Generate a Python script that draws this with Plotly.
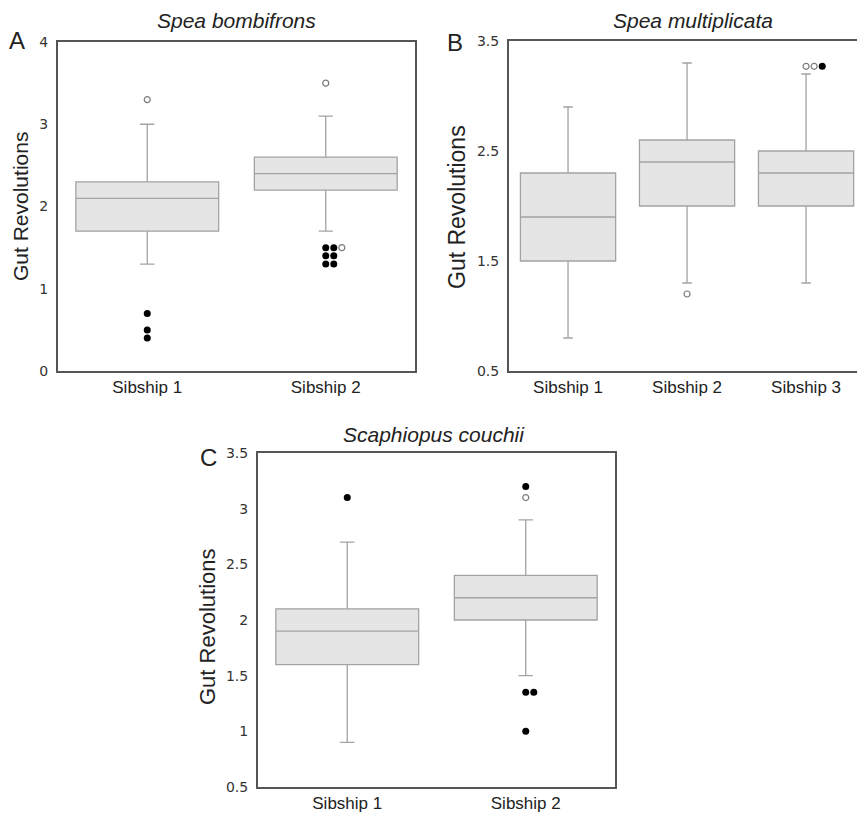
import plotly.graph_objects as go

W, H = 857, 813

# ---------------- data ----------------
cats_ab2 = ["Sibship 1", "Sibship 2"]
cats_b = ["Sibship 1", "Sibship 2", "Sibship 3"]

# Panel A: Spea bombifrons
a_q1 = [1.7, 2.2]
a_med = [2.1, 2.4]
a_q3 = [2.3, 2.6]
a_lo = [1.3, 1.7]
a_hi = [3.0, 3.1]
# outliers: (category index, column, value, filled)
a_out_cat = [0, 0, 0, 0, 1, 1, 1, 1, 1, 1, 1, 1]
a_out_col = [0, 0, 0, 0, 0, 0, 0, 1, 1, 1, 0, 2]
a_out_val = [3.3, 0.7, 0.5, 0.4, 1.5, 1.4, 1.3, 1.5, 1.4, 1.3, 3.5, 1.5]
a_out_fill = [False, True, True, True, True, True, True, True, True, True, False, False]

# Panel B: Spea multiplicata
b_q1 = [1.5, 2.0, 2.0]
b_med = [1.9, 2.4, 2.3]
b_q3 = [2.3, 2.6, 2.5]
b_lo = [0.8, 1.3, 1.3]
b_hi = [2.9, 3.3, 3.2]
b_out_cat = [1, 2, 2, 2]
b_out_col = [0, 0, 1, 2]
b_out_val = [1.2, 3.27, 3.27, 3.27]
b_out_fill = [False, False, False, True]

# Panel C: Scaphiopus couchii
c_q1 = [1.6, 2.0]
c_med = [1.9, 2.2]
c_q3 = [2.1, 2.4]
c_lo = [0.9, 1.5]
c_hi = [2.7, 2.9]
c_out_cat = [0, 1, 1, 1, 1, 1]
c_out_col = [0, 0, 0, 0, 1, 0]
c_out_val = [3.1, 3.2, 3.1, 1.35, 1.35, 1.0]
c_out_fill = [True, True, False, True, True, True]

a_ticks = [0, 1, 2, 3, 4]
b_ticks = [0.5, 1.5, 2.5, 3.5]
c_ticks = [0.5, 1, 1.5, 2, 2.5, 3, 3.5]

# ---------------- styling ----------------
BOX_FILL = "#e5e5e5"
BOX_LINE = "#a3a3a3"
FRAME = "#555555"
FONT = "Liberation Sans, Arial, sans-serif"
TICKFONT = "DejaVu Sans, Verdana, sans-serif"

fig = go.Figure()


def add_panel(cats, q1, med, q3, lo, hi, oc, ocol, oval, ofill, ax, spacing):
    xa = "x" if ax == 1 else f"x{ax}"
    ya = "y" if ax == 1 else f"y{ax}"
    for i in range(len(cats)):
        fig.add_trace(go.Box(
            x=[i], q1=[q1[i]], median=[med[i]], q3=[q3[i]],
            lowerfence=[lo[i]], upperfence=[hi[i]],
            width=0.8, whiskerwidth=0.1,
            fillcolor=BOX_FILL, line=dict(color=BOX_LINE, width=1.3),
            boxpoints=False, showlegend=False, xaxis=xa, yaxis=ya,
            hoverinfo="skip",
        ))
    for filled in (False, True):
        xs = [oc[k] + ocol[k] * spacing for k in range(len(oval)) if ofill[k] == filled]
        ys = [oval[k] for k in range(len(oval)) if ofill[k] == filled]
        if not xs:
            continue
        if filled:
            marker = dict(symbol="circle", size=7, color="#000000")
        else:
            marker = dict(symbol="circle-open", size=6, color="#7a7a7a",
                          line=dict(width=1.2, color="#7a7a7a"))
        fig.add_trace(go.Scatter(x=xs, y=ys, mode="markers", marker=marker,
                                 showlegend=False, xaxis=xa, yaxis=ya,
                                 hoverinfo="skip", cliponaxis=False))


add_panel(cats_ab2, a_q1, a_med, a_q3, a_lo, a_hi,
          a_out_cat, a_out_col, a_out_val, a_out_fill, 1, 0.045)
add_panel(cats_b, b_q1, b_med, b_q3, b_lo, b_hi,
          b_out_cat, b_out_col, b_out_val, b_out_fill, 2, 0.068)
add_panel(cats_ab2, c_q1, c_med, c_q3, c_lo, c_hi,
          c_out_cat, c_out_col, c_out_val, c_out_fill, 3, 0.045)


def px_x(p):
    return p / W


def px_y(p):
    return 1 - p / H


def xaxis_cfg(left, right, cats, rng):
    return dict(domain=[px_x(left), min(1.0, px_x(right))], range=rng,
                tickvals=list(range(len(cats))), ticktext=cats,
                showgrid=False, zeroline=False, showline=True, mirror=True,
                linecolor=FRAME, linewidth=2, ticks="outside", ticklen=0,
                tickcolor="rgba(0,0,0,0)", automargin=False,
                tickfont=dict(family=FONT, size=17, color="#222222"),
                fixedrange=True)


def yaxis_cfg(top, bottom, ticks, rng, anchor, mirror=True):
    return dict(domain=[px_y(bottom), px_y(top)], range=rng, tickvals=ticks,
                ticktext=[("%g" % t) for t in ticks],
                showgrid=False, zeroline=False, showline=True, mirror=mirror,
                linecolor=FRAME, linewidth=2, ticks="outside", ticklen=5,
                tickcolor="rgba(0,0,0,0)", anchor=anchor, automargin=False,
                tickfont=dict(family=TICKFONT, size=14, color="#333333"),
                fixedrange=True)


fig.update_layout(
    width=W, height=H, autosize=False,
    margin=dict(l=0, r=0, t=0, b=0, pad=0, autoexpand=False),
    paper_bgcolor="white", plot_bgcolor="white",
    xaxis=dict(xaxis_cfg(58, 415, cats_ab2, [-0.5, 1.5]), anchor="y"),
    yaxis=yaxis_cfg(42, 371, a_ticks, [0, 4], "x"),
    xaxis2=dict(xaxis_cfg(509, 866, cats_b, [-0.496, 2.428]), anchor="y2"),
    yaxis2=yaxis_cfg(41, 371, b_ticks, [0.5, 3.5], "x2", mirror=False),
    xaxis3=dict(xaxis_cfg(258, 615, cats_ab2, [-0.5, 1.5]), anchor="y3"),
    yaxis3=yaxis_cfg(453, 787, c_ticks, [0.5, 3.5], "x3"),
)

annots = [
    # titles
    dict(text="<i>Spea bombifrons</i>", x=236, y=20, size=21),
    dict(text="<i>Spea multiplicata</i>", x=693, y=20, size=21),
    dict(text="<i>Scaphiopus couchii</i>", x=434, y=434, size=21),
    # panel letters
    dict(text="A", x=17, y=41, size=24),
    dict(text="B", x=455, y=43, size=24),
    dict(text="C", x=208, y=457, size=24),
]
for a in annots:
    fig.add_annotation(text=a["text"], x=px_x(a["x"]), y=px_y(a["y"]),
                       xref="paper", yref="paper", showarrow=False,
                       xanchor="center", yanchor="middle",
                       font=dict(family=FONT, size=a["size"], color="#222222"))

ytitles = [
    dict(x=20, y=207, size=21),
    dict(x=457, y=207, size=23),
    dict(x=207, y=627, size=22),
]
for a in ytitles:
    fig.add_annotation(text="Gut Revolutions", x=px_x(a["x"]), y=px_y(a["y"]),
                       xref="paper", yref="paper", showarrow=False,
                       textangle=-90, xanchor="center", yanchor="middle",
                       font=dict(family=FONT, size=a["size"], color="#222222"))

fig.write_html(
    "out.html",
    config={"responsive": False, "displayModeBar": False},
    post_script="document.body.style.margin='0';document.body.style.overflow='hidden';",
)
